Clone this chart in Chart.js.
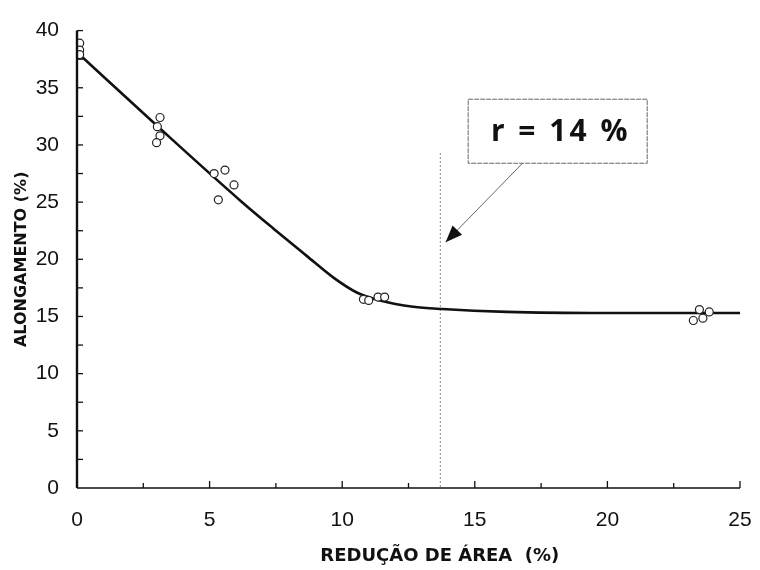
<!DOCTYPE html>
<html>
<head>
<meta charset="utf-8">
<script src="https://cdn.jsdelivr.net/npm/chart.js@4.4.0/dist/chart.umd.min.js"></script>
<style>
  html, body { margin: 0; padding: 0; background: #fff; }
  #wrap { width: 760px; height: 570px; }
</style>
</head>
<body>
<div id="wrap"><canvas id="myChart" width="760" height="570"></canvas></div>
<script>
// measured points (reducao de area %, alongamento %)
const pointX = [0.1, 0.1, 0.1, 3.13, 3.03, 3.13, 3.0, 5.17, 5.58, 5.92, 5.33, 10.8, 11.0, 11.35, 11.6, 23.47, 23.84, 23.24, 23.6];
const pointY = [38.9, 38.3, 37.9, 32.4, 31.6, 30.8, 30.2, 27.5, 27.8, 26.5, 25.2, 16.5, 16.4, 16.7, 16.7, 15.6, 15.4, 14.65, 14.85];

// fitted curve
const curveX = [0, 3.1, 6.15, 7.4, 8.66, 9.67, 10.55, 11.43, 12.68, 13.77, 16.2, 20, 25];
const curveY = [38.1, 31.5, 25.15, 22.7, 20.3, 18.4, 17.1, 16.4, 15.85, 15.65, 15.4, 15.3, 15.3];

// r = 14 % marker
const markerX = [13.7, 13.7];
const markerY = [29.3, 0];
const boxX = [14.75, 21.5];
const boxY = [34.0, 28.4];
const arrowFrom = [16.8, 28.4];
const arrowTo = [13.9, 21.5];
const boxText = 'r = 14 %';

const xTicks = [0, 5, 10, 15, 20, 25];
const yTicks = [0, 5, 10, 15, 20, 25, 30, 35, 40];
const minorStep = 2.5;

const toXY = (xs, ys) => xs.map((x, i) => ({x: x, y: ys[i]}));

const inwardTicks = {
    id: 'inwardTicks',
    afterDraw(chart) {
        const ctx = chart.ctx;
        const xs = chart.scales.x, ys = chart.scales.y;
        const a = chart.chartArea;
        ctx.save();
        ctx.strokeStyle = '#111';
        ctx.lineWidth = 1.3;
        for (let v = minorStep; v <= 25; v += minorStep) {
            const px = xs.getPixelForValue(v);
            ctx.beginPath();
            ctx.moveTo(px, a.bottom);
            ctx.lineTo(px, a.bottom - (v % 5 === 0 ? 7 : 5));
            ctx.stroke();
        }
        for (let v = minorStep; v <= 40; v += minorStep) {
            const py = ys.getPixelForValue(v);
            ctx.beginPath();
            ctx.moveTo(a.left, py);
            ctx.lineTo(a.left + 6, py);
            ctx.stroke();
        }
        // axes
        ctx.lineWidth = 2.4;
        ctx.beginPath();
        ctx.moveTo(a.left, a.top);
        ctx.lineTo(a.left, a.bottom);
        ctx.stroke();
        ctx.lineWidth = 1.6;
        ctx.beginPath();
        ctx.moveTo(a.left, a.bottom);
        ctx.lineTo(a.right, a.bottom);
        ctx.stroke();

        // label box
        const bx0 = xs.getPixelForValue(boxX[0]), bx1 = xs.getPixelForValue(boxX[1]);
        const by0 = ys.getPixelForValue(boxY[0]), by1 = ys.getPixelForValue(boxY[1]);
        ctx.strokeStyle = '#666';
        ctx.lineWidth = 1;
        ctx.setLineDash([5, 1]);
        ctx.strokeRect(bx0, by0, bx1 - bx0, by1 - by0);
        ctx.setLineDash([]);
        ctx.fillStyle = '#111';
        ctx.font = 'bold 30px "Open Sans"';
        ctx.textAlign = 'center';
        ctx.textBaseline = 'middle';
        ctx.letterSpacing = '3px';
        ctx.fillText(boxText, (bx0 + bx1) / 2 + 3, (by0 + by1) / 2 + 1);
        ctx.letterSpacing = '0px';

        // arrow
        const ax0 = xs.getPixelForValue(arrowFrom[0]), ay0 = ys.getPixelForValue(arrowFrom[1]);
        const ax1 = xs.getPixelForValue(arrowTo[0]), ay1 = ys.getPixelForValue(arrowTo[1]);
        ctx.strokeStyle = '#666';
        ctx.lineWidth = 1;
        ctx.beginPath();
        ctx.moveTo(ax0, ay0);
        ctx.lineTo(ax1, ay1);
        ctx.stroke();
        const ang = Math.atan2(ay1 - ay0, ax1 - ax0);
        ctx.fillStyle = '#111';
        ctx.beginPath();
        ctx.moveTo(ax1, ay1);
        ctx.lineTo(ax1 - 18 * Math.cos(ang - 0.38), ay1 - 18 * Math.sin(ang - 0.38));
        ctx.lineTo(ax1 - 18 * Math.cos(ang + 0.38), ay1 - 18 * Math.sin(ang + 0.38));
        ctx.closePath();
        ctx.fill();
        ctx.restore();
    }
};

const ctx = document.getElementById('myChart');

const data = {
    datasets: [
        {
            type: 'line',
            data: toXY(curveX, curveY),
            borderColor: '#111',
            borderWidth: 2.6,
            pointRadius: 0,
            cubicInterpolationMode: 'monotone',
            order: 2
        },
        {
            type: 'line',
            data: toXY(markerX, markerY),
            borderColor: '#888',
            borderWidth: 1,
            borderDash: [2, 2],
            pointRadius: 0,
            order: 3
        },
        {
            type: 'scatter',
            data: toXY(pointX, pointY),
            pointStyle: 'circle',
            pointRadius: 4,
            backgroundColor: '#fff',
            borderColor: '#222',
            borderWidth: 1.2,
            order: 1
        }
    ]
};

const config = {
    type: 'scatter',
    data: data,
    plugins: [inwardTicks],
    options: {
        responsive: false,
        animation: false,
        layout: {
            padding: {top: 22, right: 20, left: 0, bottom: 0}
        },
        plugins: {
            legend: {display: false},
            tooltip: {enabled: false}
        },
        scales: {
            x: {
                type: 'linear',
                min: 0,
                max: 25,
                afterFit: (s) => { s.height = 82; s.paddingRight = 0; s.paddingLeft = 0; },
                afterBuildTicks: (s) => { s.ticks = xTicks.map(v => ({value: v})); },
                grid: {display: false, drawTicks: false},
                border: {display: false},
                ticks: {
                    color: '#111',
                    padding: 20,
                    maxRotation: 0,
                    font: {family: '"Liberation Sans"', size: 21}
                },
                title: {
                    display: true,
                    text: '          REDUÇÃO DE ÁREA  (%)',
                    color: '#111',
                    padding: {top: 0, bottom: 3},
                    font: {family: '"DejaVu Sans"', size: 18, weight: 'bold'}
                }
            },
            y: {
                type: 'linear',
                min: 0,
                max: 40,
                afterFit: (s) => { s.width = 77; },
                afterBuildTicks: (s) => { s.ticks = yTicks.map(v => ({value: v})); },
                grid: {display: false, drawTicks: false},
                border: {display: false},
                ticks: {
                    color: '#111',
                    padding: 18,
                    font: {family: '"Liberation Sans"', size: 21}
                },
                title: {
                    display: true,
                    text: 'ALONGAMENTO (%)',
                    color: '#111',
                    padding: {top: 12, bottom: 0},
                    font: {family: '"DejaVu Sans"', size: 16, weight: 'bold'}
                }
            }
        }
    }
};
var chart = new Chart(ctx, config);
</script>
</body>
</html>
